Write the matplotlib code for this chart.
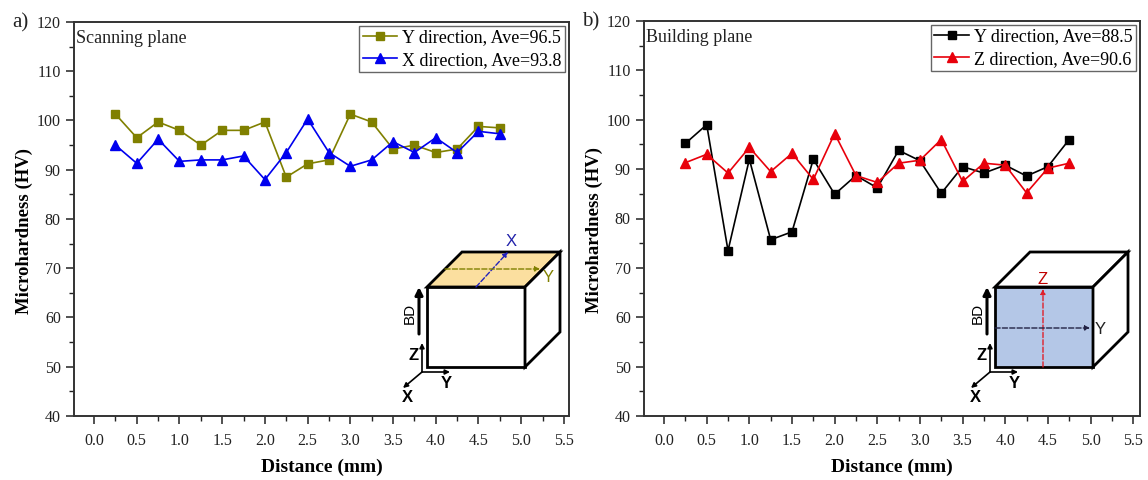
import numpy as np
import matplotlib
matplotlib.use('Agg')
import matplotlib.pyplot as plt
from matplotlib.patches import Polygon, FancyArrowPatch
from matplotlib.ticker import MultipleLocator

plt.rcParams['font.family'] = ['Liberation Serif', 'DejaVu Serif']

distance = [0.25, 0.5, 0.75, 1.0, 1.25, 1.5, 1.75, 2.0, 2.25, 2.5, 2.75, 3.0, 3.25, 3.5, 3.75, 4.0, 4.25, 4.5, 4.75]
scan_y = [101.3, 96.5, 99.7, 98.0, 95.0, 98.0, 98.0, 99.7, 88.5, 91.2, 92.0, 101.3, 99.7, 94.2, 95.0, 93.5, 94.2, 98.8, 98.5]
scan_x = [95.0, 91.3, 96.2, 91.7, 92.0, 92.0, 92.8, 88.0, 93.5, 100.3, 93.5, 90.7, 92.0, 95.7, 93.5, 96.5, 93.5, 97.8, 97.3]
build_y = [95.2, 99.0, 73.5, 92.0, 75.7, 77.3, 92.0, 84.9, 88.7, 86.2, 93.8, 91.7, 85.1, 90.5, 89.2, 90.8, 88.6, 90.5, 96.0]
build_z = [91.3, 93.0, 89.2, 94.4, 89.5, 93.2, 87.9, 97.2, 88.7, 87.3, 91.2, 91.8, 96.0, 87.5, 91.2, 90.8, 85.2, 90.2, 91.2]

OLIVE = '#808000'
W, H = 1148, 480

fig = plt.figure(figsize=(W / 100, H / 100), dpi=100)


def make_axes(x0, x1, y0, y1):
    return fig.add_axes([x0 / W, 1 - y1 / H, (x1 - x0) / W, (y1 - y0) / H])


def setup(ax, title, names, series, colors, markers, xmax):
    for vals, col, m, name in zip(series, colors, markers, names):
        ax.plot(distance, vals, color=col, marker=m, ms=7.5 if m == '^' else 6, lw=1.2, label=name)
    ax.set_xlim(-0.235, xmax)
    ax.set_ylim(40, 120)
    ax.xaxis.set_major_locator(MultipleLocator(0.5))
    ax.xaxis.set_minor_locator(MultipleLocator(0.25))
    ax.yaxis.set_major_locator(MultipleLocator(10))
    ax.yaxis.set_minor_locator(MultipleLocator(5))
    ax.tick_params(which='major', length=6, width=1.1, labelsize=11.5, colors='#222222')
    ax.tick_params(axis='x', which='major', pad=6)
    ax.tick_params(which='minor', length=3.5, width=1.0, colors='#222222')
    for s in ax.spines.values():
        s.set_linewidth(1.4)
        s.set_color('#333333')
    ax.set_xlabel('Distance (mm)', fontsize=14, fontweight='bold', labelpad=7)
    ax.set_ylabel('Microhardness (HV)', fontsize=13.5, fontweight='bold', labelpad=3, y=0.47)
    ax.text(0.005, 0.98, title, transform=ax.transAxes, fontsize=13, va='top', color='#222222')
    leg = ax.legend(loc='upper right', fontsize=13, frameon=True, fancybox=False, framealpha=1,
                    edgecolor='#666666', borderaxespad=0.2, borderpad=0.2, labelspacing=0.3,
                    handlelength=1.9, handletextpad=0.3)
    leg.get_frame().set_linewidth(1.0)


ax1 = make_axes(74, 569, 22, 416)
setup(ax1, 'Scanning plane', ['Y direction, Ave=96.5', 'X direction, Ave=93.8'],
      [scan_y, scan_x], [OLIVE, '#0000ee'], ['s', '^'], 5.56)
ax2 = make_axes(644, 1140, 21, 416)
setup(ax2, 'Building plane', ['Y direction, Ave=88.5', 'Z direction, Ave=90.6'],
      [build_y, build_z], ['black', '#e8000b'], ['s', '^'], 5.58)

# overlay in pixel coordinates for the cube sketches and panel letters
ov = fig.add_axes([0, 0, 1, 1], facecolor='none')
ov.set_xlim(0, W)
ov.set_ylim(H, 0)
ov.axis('off')


def arrow(p, q, col='black', lw=1.2, ls='-', size=7):
    ov.add_patch(FancyArrowPatch(p, q, arrowstyle='-|>', mutation_scale=size, color=col, lw=lw, ls=ls,
                                 shrinkA=0, shrinkB=0))


def cube(x0, top_col, front_col):
    x1, y0, y1 = x0 + 98, 287, 367
    dx, dy = 35, 35
    ov.add_patch(Polygon([(x0, y0), (x1, y0), (x1 + dx, y0 - dy), (x0 + dx, y0 - dy)], fc=top_col, ec='black', lw=2))
    ov.add_patch(Polygon([(x0, y0), (x1, y0), (x1, y1), (x0, y1)], fc=front_col, ec='black', lw=2))
    ov.add_patch(Polygon([(x1, y0), (x1 + dx, y0 - dy), (x1 + dx, y1 - dy), (x1, y1)], fc='white', ec='black', lw=2))
    # build direction arrow
    arrow((x0 - 8, 334), (x0 - 8, 287), lw=2.2, size=11)
    ov.text(x0 - 17, 313, 'BD', rotation=90, family='Liberation Sans', fontsize=11, ha='center', va='center')
    # small coordinate frame
    ox, oy = x0 - 5, 372
    arrow((ox, oy), (ox, oy - 29))
    arrow((ox, oy), (ox + 28, oy))
    arrow((ox, oy), (ox - 19, oy + 16))
    for lab, tx, ty in [('Z', ox - 8, oy - 17), ('Y', ox + 24, oy + 11), ('X', ox - 15, oy + 25)]:
        ov.text(tx, ty, lab, family='Liberation Sans', fontsize=12, fontweight='bold', ha='center', va='center')


cube(427, '#fbdf9f', 'white')
arrow((476, 287), (508, 252), col='#2222bb', lw=1, ls='--', size=7)
arrow((445, 269), (540, 269), col=OLIVE, lw=1, ls='--', size=7)
ov.text(511, 242, 'X', family='Liberation Sans', fontsize=12, color='#2222aa', ha='center', va='center')
ov.text(548, 277, 'Y', family='Liberation Sans', fontsize=12, color=OLIVE, ha='center', va='center')

cube(995, 'white', '#b4c7e7')
arrow((1043, 367), (1043, 289), col='#e0202a', lw=1, ls='--', size=7)
arrow((995, 328), (1090, 328), col='#222244', lw=1, ls='--', size=7)
ov.text(1043, 279, 'Z', family='Liberation Sans', fontsize=12, color='#c00000', ha='center', va='center')
ov.text(1100, 329, 'Y', family='Liberation Sans', fontsize=12, color='#222222', ha='center', va='center')

ov.text(12, 23, 'a)', fontsize=15, va='center', color='#222222')
ov.text(582, 22, 'b)', fontsize=15, va='center', color='#222222')

fig.savefig('out.png', dpi=100)
